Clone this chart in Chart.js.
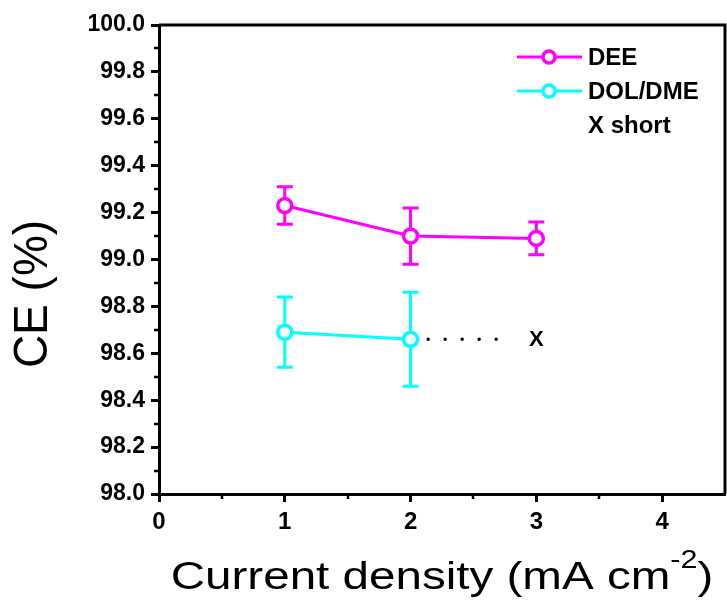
<!DOCTYPE html>
<html lang="en">
<head>
    <meta charset="UTF-8">
    <title>CE vs current density</title>
    <script src="https://cdn.jsdelivr.net/npm/chart.js"></script>
    <style>
        html, body { margin: 0; padding: 0; background: #fff; }
        #wrap { width: 727px; height: 605px; }
    </style>
</head>
<body>
<div id="wrap"><canvas id="ceChart" width="727" height="605"></canvas></div>
<script>
    // values
    const currentDensity = [1, 2, 3];
    const deeCE = [99.23, 99.10, 99.09];
    const deeErr = [0.08, 0.12, 0.07];
    const dolX = [1, 2];
    const dolCE = [98.69, 98.66];
    const dolErr = [0.15, 0.20];
    const shortLineX = [2.14, 2.81];   // dotted line towards the short
    const shortPoint = { x: 3, y: 98.66 };
    const xTicks = [0, 1, 2, 3, 4];
    const yTicks = [98.0, 98.2, 98.4, 98.6, 98.8, 99.0, 99.2, 99.4, 99.6, 99.8, 100.0];

    const MAGENTA = '#ff00ff';
    const CYAN = '#00ffff';
    const FONT = '"Liberation Sans", Arial, sans-serif';

    // error bars + box + minor ticks + titles + legend
    const decor = {
        id: 'decor',
        beforeDatasetsDraw(chart) {
            const { ctx, scales: { x, y } } = chart;
            ctx.save();
            ctx.lineWidth = 3;
            const bars = [[currentDensity, deeCE, deeErr, MAGENTA], [dolX, dolCE, dolErr, CYAN]];
            bars.forEach(([xs, ys, es, col]) => {
                ctx.strokeStyle = col;
                xs.forEach((xv, i) => {
                    const px = x.getPixelForValue(xv);
                    const top = y.getPixelForValue(ys[i] + es[i]);
                    const bot = y.getPixelForValue(ys[i] - es[i]);
                    ctx.beginPath();
                    ctx.moveTo(px, top); ctx.lineTo(px, bot);
                    ctx.moveTo(px - 8, top); ctx.lineTo(px + 8, top);
                    ctx.moveTo(px - 8, bot); ctx.lineTo(px + 8, bot);
                    ctx.stroke();
                });
            });
            ctx.restore();
        },
        afterDraw(chart) {
            const { ctx, chartArea: a, scales: { x, y } } = chart;
            ctx.save();
            ctx.strokeStyle = '#000';
            ctx.lineWidth = 3;
            // top and right frame
            ctx.beginPath();
            ctx.moveTo(a.left, a.top); ctx.lineTo(a.right, a.top); ctx.lineTo(a.right, a.bottom);
            ctx.stroke();
            // minor ticks
            ctx.lineWidth = 2.5;
            ctx.beginPath();
            for (let v = 98.1; v < 100; v += 0.2) {
                const py = Math.round(y.getPixelForValue(v));
                ctx.moveTo(a.left, py); ctx.lineTo(a.left - 5, py);
            }
            for (let v = 0.5; v < 4.5; v += 1) {
                const px = Math.round(x.getPixelForValue(v));
                ctx.moveTo(px, a.bottom); ctx.lineTo(px, a.bottom + 5);
            }
            ctx.stroke();

            // short marker
            ctx.fillStyle = '#000';
            ctx.font = 'bold 22px ' + FONT;
            ctx.textAlign = 'center';
            ctx.textBaseline = 'middle';
            ctx.fillText('X', x.getPixelForValue(shortPoint.x), y.getPixelForValue(shortPoint.y) + 1);

            // x axis title (original figure is stretched sideways)
            const big = '39px ' + FONT, small = '25px ' + FONT;
            ctx.textAlign = 'left';
            ctx.textBaseline = 'alphabetic';
            const main = 'Current density (mA cm';
            ctx.font = big;
            const w1 = ctx.measureText(main).width;
            const w3 = ctx.measureText(')').width;
            ctx.font = small;
            const w2 = ctx.measureText('-2').width;
            const stretch = 1.22;
            const total = (w1 + w2 + w3) * stretch;
            ctx.save();
            ctx.translate((a.left + a.right) / 2 - total / 2, 589);
            ctx.scale(stretch, 1);
            ctx.font = big;
            ctx.fillText(main, 0, 0);
            ctx.fillText(')', w1 + w2, 0);
            ctx.font = small;
            ctx.fillText('-2', w1, -21);
            ctx.restore();

            // y axis title
            ctx.save();
            ctx.translate(34, 294);
            ctx.rotate(-Math.PI / 2);
            ctx.scale(1, 1.05);
            ctx.font = '46px ' + FONT;
            ctx.textAlign = 'center';
            ctx.textBaseline = 'middle';
            ctx.fillText('CE (%)', 0, 0);
            ctx.restore();

            // legend
            const items = [['DEE', MAGENTA], ['DOL/DME', CYAN], ['X short', null]];
            ctx.font = 'bold 24px ' + FONT;
            ctx.textBaseline = 'middle';
            ctx.textAlign = 'left';
            items.forEach(([label, col], i) => {
                const ly = 57 + i * 34;
                if (col) {
                    ctx.strokeStyle = col;
                    ctx.lineWidth = 3;
                    ctx.beginPath();
                    ctx.moveTo(517, ly); ctx.lineTo(582, ly);
                    ctx.stroke();
                    ctx.beginPath();
                    ctx.arc(549, ly, 6, 0, Math.PI * 2);
                    ctx.fillStyle = '#fff';
                    ctx.fill();
                    ctx.lineWidth = 3.5;
                    ctx.stroke();
                }
                ctx.fillStyle = '#000';
                ctx.fillText(label, 588, ly + 1);
            });
            ctx.restore();
        }
    };

    const toPts = (xs, ys) => xs.map((v, i) => ({ x: v, y: ys[i] }));

    new Chart(document.getElementById('ceChart'), {
        type: 'scatter',
        data: {
            datasets: [
                {
                    label: 'DEE',
                    data: toPts(currentDensity, deeCE),
                    showLine: true,
                    borderColor: MAGENTA,
                    backgroundColor: '#fff',
                    borderWidth: 3,
                    pointRadius: 7,
                    pointBorderWidth: 3.5,
                    pointBackgroundColor: '#fff'
                },
                {
                    label: 'DOL/DME',
                    data: toPts(dolX, dolCE),
                    showLine: true,
                    borderColor: CYAN,
                    backgroundColor: '#fff',
                    borderWidth: 3,
                    pointRadius: 7,
                    pointBorderWidth: 3.5,
                    pointBackgroundColor: '#fff'
                },
                {
                    label: 'short',
                    data: toPts(shortLineX, [shortPoint.y, shortPoint.y]),
                    showLine: true,
                    borderColor: '#000',
                    borderWidth: 3.5,
                    borderDash: [0, 17],
                    borderCapStyle: 'round',
                    pointRadius: 0
                }
            ]
        },
        options: {
            responsive: false,
            animation: false,
            events: [],
            layout: { autoPadding: false, padding: { top: 25, right: 2, left: 0, bottom: 0 } },
            plugins: { legend: { display: false }, tooltip: { enabled: false } },
            scales: {
                x: {
                    type: 'linear',
                    min: 0,
                    max: 4.5,
                    afterBuildTicks: s => { s.ticks = xTicks.map(v => ({ value: v })); },
                    afterFit: s => { s.height = 111; },
                    border: { display: true, color: '#000', width: 3 },
                    grid: { display: true, drawOnChartArea: false, tickLength: 8, tickWidth: 3, tickColor: '#000' },
                    ticks: { color: '#000', padding: 6, font: { family: FONT, size: 24, weight: 'bold' } }
                },
                y: {
                    min: 98,
                    max: 100,
                    afterBuildTicks: s => { s.ticks = yTicks.map(v => ({ value: v })); },
                    afterFit: s => { s.width = 159; },
                    border: { display: true, color: '#000', width: 3 },
                    grid: { display: true, drawOnChartArea: false, tickLength: 8, tickWidth: 3, tickColor: '#000' },
                    ticks: {
                        color: '#000',
                        padding: 6,
                        font: { family: FONT, size: 23, weight: 'bold' },
                        callback: v => v.toFixed(1)
                    }
                }
            }
        },
        plugins: [decor]
    });
</script>
</body>
</html>
